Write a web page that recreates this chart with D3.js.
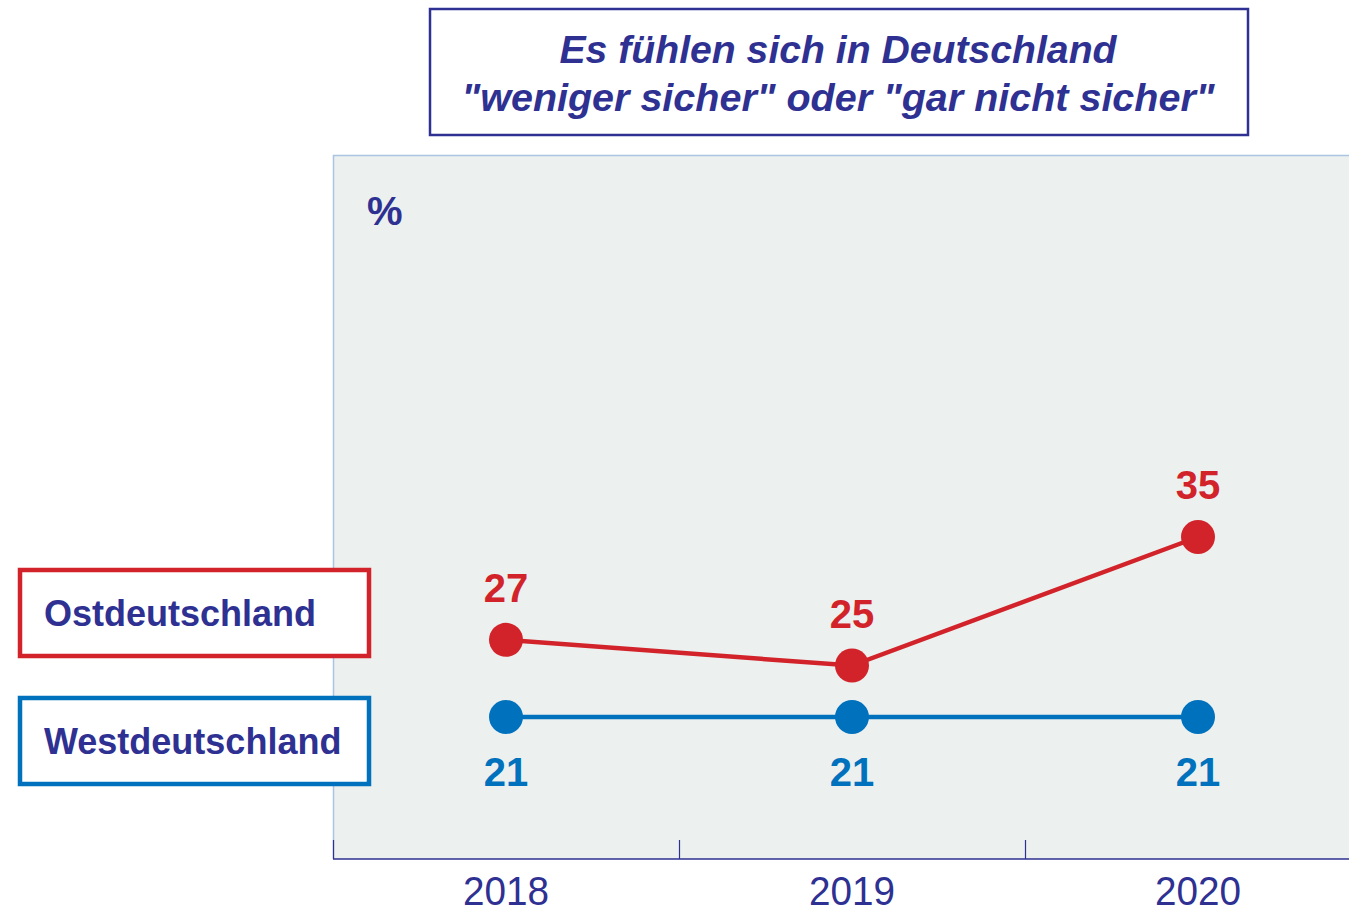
<!DOCTYPE html>
<html>
<head>
<meta charset="utf-8">
<script src="https://cdn.jsdelivr.net/npm/d3@7"></script>
<style>
  body { margin: 0; background: #fff; }
  svg { display: block; }
</style>
</head>
<body>
<div id="chart"></div>
<script>
// data
const years = ["2018", "2019", "2020"];
const ost = [27, 25, 35];
const west = [21, 21, 21];
const seriesNames = ["Ostdeutschland", "Westdeutschland"];
const titleLines = ["Es fühlen sich in Deutschland", "\"weniger sicher\" oder \"gar nicht sicher\""];

const W = 1349, H = 913;
const navy = "#2e3192", red = "#d2232a", blue = "#0071bc";

const svg = d3.select("#chart").append("svg")
    .attr("width", W)
    .attr("height", H);

// panel
const panel = {left: 333, top: 155, bottom: 859};

const x = d3.scaleBand()
    .domain(years)
    .range([panel.left, panel.left + 346 * 3]);

const y = d3.scaleLinear()
    .domain([21, 35])
    .range([717, 537]);

svg.append("rect")
    .attr("x", panel.left)
    .attr("y", panel.top)
    .attr("width", W - panel.left + 10)
    .attr("height", panel.bottom - panel.top)
    .attr("fill", "#ecf0ef");

svg.append("line")
    .attr("x1", panel.left + 0.5).attr("x2", panel.left + 0.5)
    .attr("y1", panel.top).attr("y2", panel.bottom)
    .attr("stroke", "#aac4e2").attr("stroke-width", 1.5);
svg.append("line")
    .attr("x1", panel.left).attr("x2", W)
    .attr("y1", panel.top + 0.5).attr("y2", panel.top + 0.5)
    .attr("stroke", "#aac4e2").attr("stroke-width", 1.5);

// x axis line + ticks at band edges
svg.append("line")
    .attr("x1", panel.left).attr("x2", W)
    .attr("y1", panel.bottom).attr("y2", panel.bottom)
    .attr("stroke", navy).attr("stroke-width", 1.5);

svg.selectAll(".tick")
    .data(years)
  .join("line")
    .attr("class", "tick")
    .attr("x1", d => x(d) + 0.5).attr("x2", d => x(d) + 0.5)
    .attr("y1", panel.bottom - 19).attr("y2", panel.bottom)
    .attr("stroke", navy).attr("stroke-width", 1.2);

svg.selectAll(".year")
    .data(years)
  .join("text")
    .attr("class", "year")
    .attr("x", d => x(d) + x.bandwidth() / 2)
    .attr("y", 905)
    .attr("text-anchor", "middle")
    .attr("font-family", "'Liberation Sans', Arial, sans-serif")
    .attr("font-size", 40)
    .attr("textLength", 86)
    .attr("lengthAdjust", "spacingAndGlyphs")
    .attr("fill", navy)
    .text(d => d);

// % label
svg.append("text")
    .attr("x", 367).attr("y", 225)
    .attr("font-family", "'Liberation Sans', Arial, sans-serif")
    .attr("font-weight", "bold")
    .attr("font-size", 40)
    .attr("fill", navy)
    .text("%");

// lines
const line = d3.line()
    .x((d, i) => x(years[i]) + x.bandwidth() / 2)
    .y(d => y(d));

function drawSeries(values, color, labelDy) {
  svg.append("path")
      .attr("d", line(values))
      .attr("fill", "none")
      .attr("stroke", color)
      .attr("stroke-width", 4.5);

  const g = svg.append("g");
  g.selectAll("circle")
      .data(values)
    .join("circle")
      .attr("cx", (d, i) => x(years[i]) + x.bandwidth() / 2)
      .attr("cy", d => y(d))
      .attr("r", 17)
      .attr("fill", color);

  g.selectAll("text")
      .data(values)
    .join("text")
      .attr("x", (d, i) => x(years[i]) + x.bandwidth() / 2)
      .attr("y", d => y(d) + labelDy)
      .attr("text-anchor", "middle")
      .attr("font-family", "'Liberation Sans', Arial, sans-serif")
      .attr("font-weight", "bold")
      .attr("font-size", 40)
      .attr("fill", color)
      .text(d => d);
}

drawSeries(ost, red, -38);
drawSeries(west, blue, 69);

// legend boxes
const legend = [
  {name: seriesNames[0], color: red, top: 568},
  {name: seriesNames[1], color: blue, top: 696}
];

legend.forEach(l => {
  svg.append("rect")
      .attr("x", 20).attr("y", l.top + 2)
      .attr("width", 349).attr("height", 86)
      .attr("fill", "#fff")
      .attr("stroke", l.color)
      .attr("stroke-width", 4.5);
  svg.append("text")
      .attr("x", 44).attr("y", l.top + 58)
      .attr("font-family", "'Liberation Sans', Arial, sans-serif")
      .attr("font-weight", "bold")
      .attr("font-size", 36)
      .attr("fill", navy)
      .text(l.name);
});

// title box
svg.append("rect")
    .attr("x", 430).attr("y", 9)
    .attr("width", 818).attr("height", 126)
    .attr("fill", "#fff")
    .attr("stroke", navy)
    .attr("stroke-width", 2.5);

const titleWidths = [557, 753];
svg.selectAll(".title")
    .data(titleLines)
  .join("text")
    .attr("class", "title")
    .attr("x", 838)
    .attr("y", (d, i) => 63 + i * 48)
    .attr("text-anchor", "middle")
    .attr("font-family", "'Liberation Sans', Arial, sans-serif")
    .attr("font-weight", "bold")
    .attr("font-style", "italic")
    .attr("font-size", 38)
    .attr("textLength", (d, i) => titleWidths[i])
    .attr("lengthAdjust", "spacingAndGlyphs")
    .attr("fill", navy)
    .text(d => d);
</script>
</body>
</html>
